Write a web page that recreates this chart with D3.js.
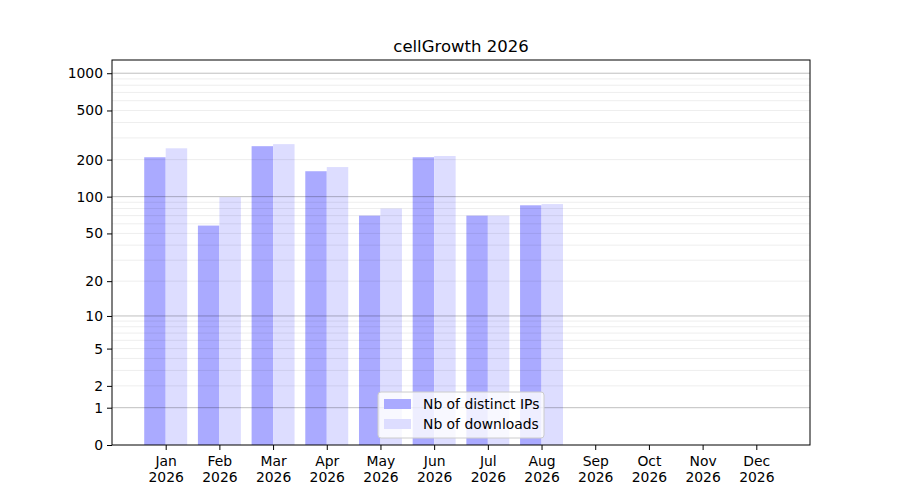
<!DOCTYPE html>
<html>
<head>
<meta charset="utf-8">
<script src="https://cdn.jsdelivr.net/npm/d3@7"></script>
<style>
  body { margin: 0; background: #fff; }
  text { font-family: "DejaVu Sans", sans-serif; }
</style>
</head>
<body>
<svg id="chart"></svg>
<script>
// data
var months = ["Jan", "Feb", "Mar", "Apr", "May", "Jun", "Jul", "Aug", "Sep", "Oct", "Nov", "Dec"]
var year = "2026"
var distinctIPs = [209, 58, 257, 161, 70, 209, 70, 85, 0, 0, 0, 0]
var downloads = [247, 99, 267, 174, 80, 214, 70, 87, 0, 0, 0, 0]
var yTicks = [0, 1, 2, 5, 10, 20, 50, 100, 200, 500, 1000]
var majorGrid = [1, 10, 100, 1000]
var minorGrid = [2, 3, 4, 5, 6, 7, 8, 9, 20, 30, 40, 50, 60, 70, 80, 90,
  200, 300, 400, 500, 600, 700, 800, 900]

var width = 900, height = 500,
  padding = { top: 60, right: 90, bottom: 55, left: 112 }

var svg = d3.select("#chart")
  .attr("width", width)
  .attr("height", height)

var x = d3.scaleLinear()
  .domain([0, 13])
  .range([padding.left, width - padding.right])

// log10(v+1) style axis
var y = d3.scaleSymlog()
  .constant(1)
  .domain([0, 1279])
  .range([height - padding.bottom, padding.top])

var barW = x(0.4) - x(0)

// bars
svg.append("g").selectAll("rect.ips")
  .data(distinctIPs)
  .enter()
  .append("rect")
  .attr("class", "ips")
  .attr("x", function (d, i) { return x(i + 1) - barW })
  .attr("width", barW)
  .attr("y", function (d) { return y(d) })
  .attr("height", function (d) { return y(0) - y(d) })
  .style("fill", "#aaaaff")

svg.append("g").selectAll("rect.dl")
  .data(downloads)
  .enter()
  .append("rect")
  .attr("class", "dl")
  .attr("x", function (d, i) { return x(i + 1) })
  .attr("width", barW)
  .attr("y", function (d) { return y(d) })
  .attr("height", function (d) { return y(0) - y(d) })
  .style("fill", "#ddddff")

// grid lines drawn over the bars
svg.append("g").selectAll("line")
  .data(minorGrid)
  .enter()
  .append("line")
  .attr("x1", x(0)).attr("x2", x(13))
  .attr("y1", function (d) { return y(d) })
  .attr("y2", function (d) { return y(d) })
  .style("stroke", "#000")
  .style("stroke-opacity", 0.07)

svg.append("g").selectAll("line")
  .data(majorGrid)
  .enter()
  .append("line")
  .attr("x1", x(0)).attr("x2", x(13))
  .attr("y1", function (d) { return y(d) })
  .attr("y2", function (d) { return y(d) })
  .style("stroke", "#000")
  .style("stroke-opacity", 0.25)

// axes
var yAxis = d3.axisLeft(y)
  .tickValues(yTicks)
  .tickFormat(d3.format("d"))
  .tickSize(5)
  .tickPadding(4)

var xAxis = d3.axisBottom(x)
  .tickValues(d3.range(1, 13))
  .tickFormat(function (d) { return months[d - 1] })
  .tickSize(5)
  .tickPadding(6)

var ya = svg.append("g")
  .attr("transform", "translate(" + padding.left + ",0)")
  .call(yAxis)

var xa = svg.append("g")
  .attr("transform", "translate(0," + (height - padding.bottom) + ")")
  .call(xAxis)

xa.selectAll(".tick text")
  .append("tspan")
  .attr("x", 0)
  .attr("dy", "1.15em")
  .text(year)

svg.selectAll(".domain").remove()
svg.selectAll(".tick text")
  .style("font-size", "13.9px")
  .style("font-family", "DejaVu Sans")
  .style("fill", "#000")
svg.selectAll(".tick line").style("stroke", "#000")

// frame
svg.append("rect")
  .attr("x", x(0))
  .attr("y", padding.top)
  .attr("width", x(13) - x(0))
  .attr("height", height - padding.bottom - padding.top)
  .style("fill", "none")
  .style("stroke", "#000")
  .style("stroke-width", 1)

// title
svg.append("text")
  .attr("x", (x(0) + x(13)) / 2)
  .attr("y", 52)
  .attr("text-anchor", "middle")
  .style("font-size", "16.5px")
  .text("cellGrowth " + year)

// legend
var legend = svg.append("g")
  .attr("transform", "translate(378,392)")

legend.append("rect")
  .attr("width", 166)
  .attr("height", 46)
  .attr("rx", 3)
  .style("fill", "#fff")
  .style("fill-opacity", 0.8)
  .style("stroke", "#ccc")

var legendItems = [
  { label: "Nb of distinct IPs", color: "#aaaaff" },
  { label: "Nb of downloads", color: "#ddddff" }
]

legendItems.forEach(function (d, i) {
  legend.append("rect")
    .attr("x", 6)
    .attr("y", 7 + i * 20)
    .attr("width", 27)
    .attr("height", 10)
    .style("fill", d.color)
  legend.append("text")
    .attr("x", 45)
    .attr("y", 17 + i * 20)
    .style("font-size", "13.9px")
    .text(d.label)
})
</script>
</body>
</html>
